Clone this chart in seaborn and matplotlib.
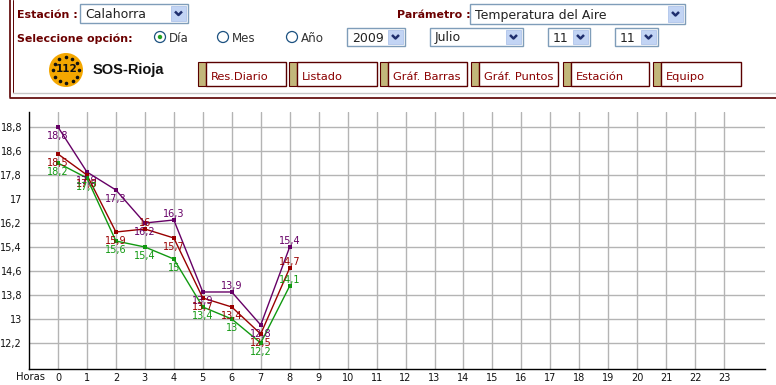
import numpy as np
import pandas as pd
import matplotlib
matplotlib.use("Agg")
import matplotlib.pyplot as plt
from matplotlib.patches import Rectangle, Circle
import seaborn as sns

# ---- data ----
hours = [0, 1, 2, 3, 4, 5, 6, 7, 8]
temp_max = [18.8, 17.9, 17.3, 16.2, 16.3, 13.9, 13.9, 12.8, 15.4]
temp_med = [18.5, 17.8, 15.9, 16.0, 15.7, 13.7, 13.4, 12.5, 14.7]
temp_min = [18.2, 17.7, 15.6, 15.4, 15.0, 13.4, 13.0, 12.2, 14.1]
series_names = ["max", "med", "min"]
series_colors = {"max": "#660066", "med": "#990000", "min": "#119911"}
x_ticks = list(range(24))
y_ticks = [12.2, 13, 13.8, 14.6, 15.4, 16.2, 17, 17.8, 18.6, 18.8]

df = pd.concat([
    pd.DataFrame({"hora": hours, "valor": vals, "serie": name})
    for name, vals in zip(series_names, [temp_max, temp_med, temp_min])
], ignore_index=True)

sns.set_style("white")
plt.rcParams["font.family"] = ["DejaVu Sans"]

W, H = 776, 385
fig = plt.figure(figsize=(W / 100, H / 100), dpi=100)
fig.patch.set_facecolor("white")

# ---- page chrome (form area) ----
ui = fig.add_axes([0, 0, 1, 1], zorder=0)
ui.set_xlim(0, W)
ui.set_ylim(H, 0)
ui.axis("off")
DR = "#6b0000"
ui.plot([10, 10], [0, 97], color="#5a0000", lw=1.2)
ui.plot([13, 13], [0, 92], color="#5a0000", lw=0.7)
ui.plot([13, W], [92.5, 92.5], color="#c8c8c8", lw=1)
ui.plot([10, W], [97.5, 97.5], color="#5a0000", lw=1.2)

def label(x, y, s, **kw):
    ui.text(x, y, s, va="baseline", ha="left", **kw)

label(17, 18, "Estación :", color=DR, fontsize=7.9, fontweight="bold")
label(397, 18, "Parámetro :", color=DR, fontsize=7.9, fontweight="bold")
label(17, 42, "Seleccione opción:", color=DR, fontsize=7.9, fontweight="bold")

def dropdown(x0, x1, y0, y1, text, fs=9.0):
    ui.add_patch(Rectangle((x0, y0), x1 - x0, y1 - y0, fc="white", ec="#7f9db9", lw=1))
    ui.add_patch(Rectangle((x1 - 17, y0 + 2), 15, y1 - y0 - 4, fc="#c2d4f4", ec="#b0c4ea", lw=0.6))
    cx, cy = x1 - 9.5, (y0 + y1) / 2
    ui.plot([cx - 3.5, cx, cx + 3.5], [cy - 2, cy + 1.5, cy - 2], color="#1f2f6e", lw=1.8,
            solid_capstyle="butt")
    label(x0 + 5, (y0 + y1) / 2 + 4.5, text, color="#222222", fontsize=fs)

dropdown(80, 188, 4, 23, "Calahorra")
dropdown(470, 685, 4, 24, "Temperatura del Aire")
dropdown(347, 405, 28, 46, "2009")
dropdown(430, 523, 28, 46, "Julio")
dropdown(548, 590, 28, 46, "11")
dropdown(615, 658, 28, 46, "11")

for cx, txt, sel in [(160, "Día", True), (223, "Mes", False), (292, "Año", False)]:
    ui.add_patch(Circle((cx, 37), 5.5, fc="white", ec="#1c5180", lw=0.9))
    if sel:
        ui.add_patch(Circle((cx, 37), 2.2, fc="#21a121", ec="none"))
    label(cx + 9, 41.5, txt, color="#333333", fontsize=8.6)

# logo
ui.add_patch(Circle((66, 70), 17, fc="#f4a700", ec="none"))
ang = np.linspace(0, 2 * np.pi, 13)[:-1]
ui.scatter(66 + 13 * np.cos(ang), 70 + 13 * np.sin(ang), s=2.5, color="#111111", zorder=3)
ui.text(67, 69, "112", ha="center", va="center", fontsize=7.5, fontweight="bold", color="#111111")
ui.text(93, 70, "SOS-Rioja", ha="left", va="center", fontsize=10.5, fontweight="bold",
        color="#111111", family=["Liberation Sans", "DejaVu Sans"])

buttons = [(198, 286, "Res.Diario"), (289, 377, "Listado"), (380, 467, "Gráf. Barras"),
           (471, 558, "Gráf. Puntos"), (563, 649, "Estación"), (653, 741, "Equipo")]
for x0, x1, txt in buttons:
    ui.add_patch(Rectangle((x0, 62), 8, 24, fc="#c2b77a", ec="#5a0000", lw=0.8))
    ui.add_patch(Rectangle((x0 + 8, 62), x1 - x0 - 8, 24, fc="white", ec="#5a0000", lw=1))
    label(x0 + 13, 80, txt, color="#8a0000", fontsize=8.2)

# ---- chart ----
ax = fig.add_axes([29 / W, 1 - 369 / H, 736 / W, 257 / H], zorder=2)
ax.patch.set_alpha(0)

def fwd(v):
    v = np.asarray(v, dtype=float)
    return np.where(v <= 18.6, v, 18.6 + 4 * (v - 18.6))

def inv(t):
    t = np.asarray(t, dtype=float)
    return np.where(t <= 18.6, t, 18.6 + (t - 18.6) / 4)

ax.set_yscale("function", functions=(fwd, inv))

sns.lineplot(data=df, x="hora", y="valor", hue="serie", hue_order=series_names,
             palette=series_colors, marker="s", markersize=3, markeredgewidth=0,
             linewidth=1, legend=False, ax=ax, zorder=3)

def fmt(v):
    s = f"{v:g}"
    return s.replace(".", ",")

for name, vals in zip(series_names, [temp_max, temp_med, temp_min]):
    for i, (h, v) in enumerate(zip(hours, vals)):
        above = i > 0 and v >= vals[i - 1]
        ax.annotate(fmt(v), (h, v), xytext=(0, 4.5 if above else -6.5),
                    textcoords="offset points", ha="center", va="center",
                    fontsize=7, color=series_colors[name], zorder=4)

ax.set_xlim(-1, 24.41)
ax.set_ylim(11.333, 18.925)
ax.set_xticks(x_ticks)
ax.set_xticklabels([str(t) for t in x_ticks])
ax.set_yticks(y_ticks)
ax.set_yticklabels([fmt(t) for t in y_ticks])
ax.minorticks_off()
ax.tick_params(length=0, labelsize=7, colors="#111111")
ax.tick_params(axis="y", pad=5)
ax.tick_params(axis="x", pad=3)
ax.grid(True, color="#b4b4b4", lw=1)
ax.set_axisbelow(True)
for s in ["top", "right"]:
    ax.spines[s].set_visible(False)
for s in ["left", "bottom"]:
    ax.spines[s].set_color("black")
    ax.spines[s].set_linewidth(1)
ax.set_xlabel("")
ax.set_ylabel("")
fig.text(16 / W, 1 - 377 / H, "Horas", ha="left", va="center", fontsize=7.2, color="#111111")

fig.savefig("out.png", dpi=100)
